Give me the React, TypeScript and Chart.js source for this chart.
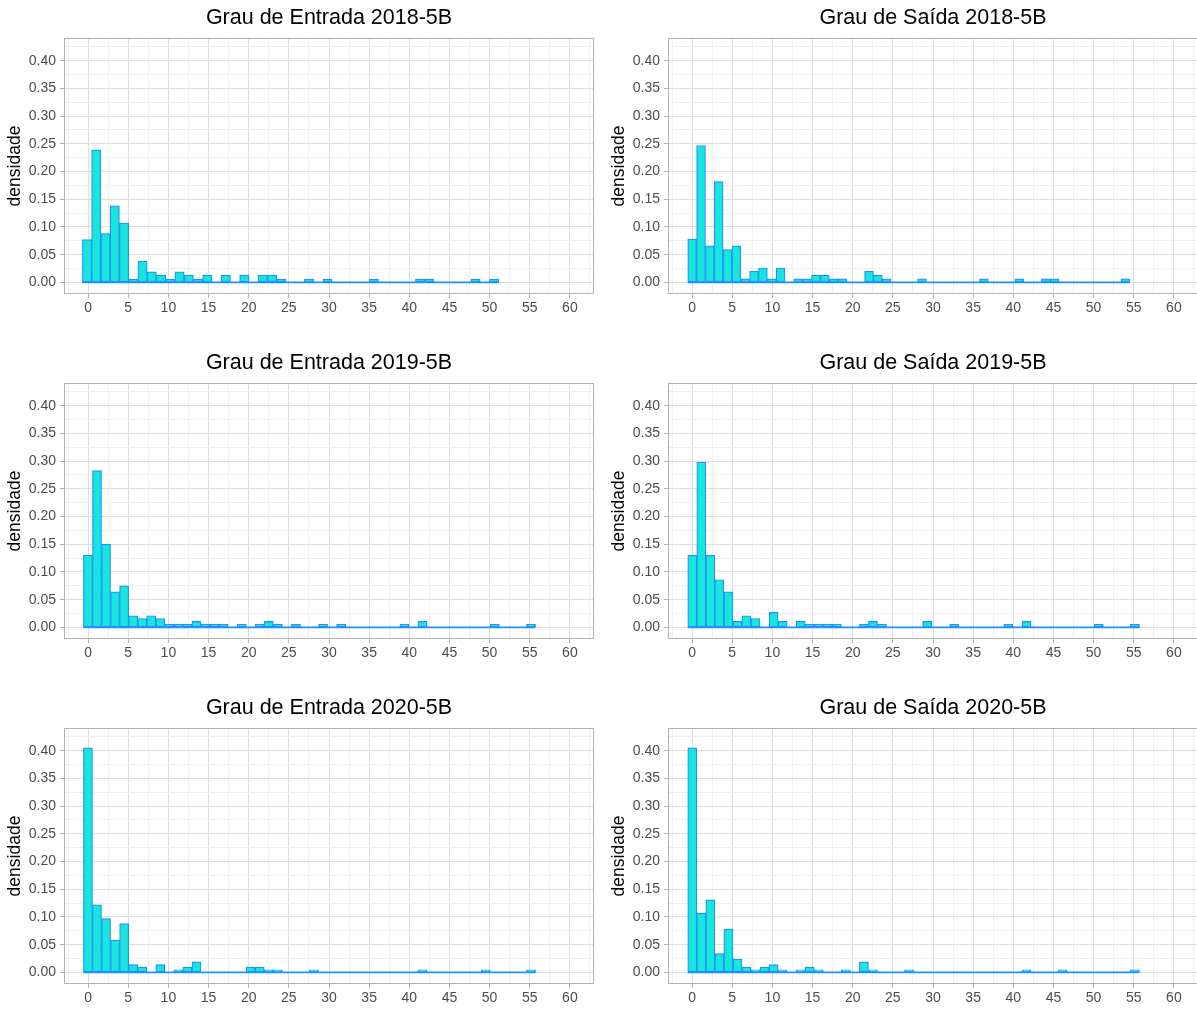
import React, { useEffect, useRef } from 'react';
import { Chart, registerables } from 'chart.js';

Chart.register(...registerables);

// ---------- data ----------
const panelTitles = [
  'Grau de Entrada 2018-5B',
  'Grau de Saída 2018-5B',
  'Grau de Entrada 2019-5B',
  'Grau de Saída 2019-5B',
  'Grau de Entrada 2020-5B',
  'Grau de Saída 2020-5B',
];

// histogram bins: left edge of the first bin and bin width (in degree units)
const binStarts = [-0.708, -0.54, -0.58, -0.54, -0.58, -0.54];
const binWidths = [1.152, 1.101, 1.126, 1.125, 1.126, 1.125];

// densities per bin
const entrada2018 = [
  0.077, 0.239, 0.088, 0.138, 0.107, 0.006, 0.038, 0.019, 0.013, 0.006,
  0.019, 0.013, 0.006, 0.013, 0, 0.013, 0, 0.013, 0, 0.013,
  0.013, 0.006, 0, 0, 0.006, 0, 0.006, 0, 0, 0,
  0, 0.006, 0, 0, 0, 0, 0.006, 0.006, 0, 0,
  0, 0, 0.006, 0, 0.006,
];
const saida2018 = [
  0.078, 0.247, 0.066, 0.182, 0.059, 0.066, 0.0065, 0.020, 0.026, 0.0065,
  0.026, 0, 0.0065, 0.0065, 0.013, 0.013, 0.0065, 0.0065, 0, 0,
  0.020, 0.013, 0.0065, 0, 0, 0, 0.0065, 0, 0, 0,
  0, 0, 0, 0.0065, 0, 0, 0, 0.0065, 0, 0,
  0.0065, 0.0065, 0, 0, 0, 0, 0, 0, 0, 0.0065,
];
const entrada2019 = [
  0.130, 0.283, 0.150, 0.064, 0.075, 0.021, 0.016, 0.021, 0.016, 0.0054,
  0.0054, 0.0054, 0.0107, 0.0054, 0.0054, 0.0054, 0, 0.0054, 0, 0.0054,
  0.0107, 0.0054, 0, 0.0054, 0, 0, 0.0054, 0, 0.0054, 0,
  0, 0, 0, 0, 0, 0.0054, 0, 0.0107, 0, 0,
  0, 0, 0, 0, 0, 0.0054, 0, 0, 0, 0.0054,
];
const saida2019 = [
  0.130, 0.298, 0.130, 0.086, 0.064, 0.0107, 0.021, 0.016, 0, 0.027,
  0.0107, 0, 0.0107, 0.0054, 0.0054, 0.0054, 0.0054, 0, 0, 0.0054,
  0.0107, 0.0054, 0, 0, 0, 0, 0.0107, 0, 0, 0.0054,
  0, 0, 0, 0, 0, 0.0054, 0, 0.0107, 0, 0,
  0, 0, 0, 0, 0, 0.0054, 0, 0, 0, 0.0054,
];
const entrada2020 = [
  0.405, 0.122, 0.097, 0.058, 0.088, 0.014, 0.0094, 0, 0.014, 0,
  0.0047, 0.0094, 0.019, 0, 0, 0, 0, 0, 0.0094, 0.0094,
  0.0047, 0.0047, 0, 0, 0, 0.0047, 0, 0, 0, 0,
  0, 0, 0, 0, 0, 0, 0, 0.0047, 0, 0,
  0, 0, 0, 0, 0.0047, 0, 0, 0, 0, 0.0047,
];
const saida2020 = [
  0.405, 0.107, 0.131, 0.034, 0.078, 0.024, 0.0094, 0.0047, 0.0094, 0.014,
  0.0047, 0, 0.0047, 0.0094, 0.0047, 0, 0, 0.0047, 0, 0.019,
  0.0047, 0, 0, 0, 0.0047, 0, 0, 0, 0, 0,
  0, 0, 0, 0, 0, 0, 0, 0.0047, 0, 0,
  0, 0.0047, 0, 0, 0, 0, 0, 0, 0, 0.0047,
];
const panelDensities = [entrada2018, saida2018, entrada2019, saida2019, entrada2020, saida2020];

// axis ticks (major ones get labels, the others are minor grid lines)
const xTickValues = [
  -2.5, 0, 2.5, 5, 7.5, 10, 12.5, 15, 17.5, 20, 22.5, 25, 27.5, 30, 32.5, 35,
  37.5, 40, 42.5, 45, 47.5, 50, 52.5, 55, 57.5, 60, 62.5,
];
const xMajorLabels = ['0', '5', '10', '15', '20', '25', '30', '35', '40', '45', '50', '55', '60'];
const yTickValues = [
  0, 0.025, 0.05, 0.075, 0.1, 0.125, 0.15, 0.175, 0.2, 0.225, 0.25, 0.275,
  0.3, 0.325, 0.35, 0.375, 0.4, 0.425,
];
const yMajorLabels = ['0.00', '0.05', '0.10', '0.15', '0.20', '0.25', '0.30', '0.35', '0.40'];

const xRange = [-3, 63];
const yRange = [-0.021, 0.441];
const yAxisTitle = 'densidade';

// ---------- styles ----------
const FONT = "'Liberation Sans', Arial, Helvetica, sans-serif";
const FILL = '#16e6dc';
const EDGE = '#1e90ff';
const GRID_MAJOR = '#dedede';
const GRID_MINOR = '#efefef';
const AXIS_GRAY = '#b3b3b3';
const TICK_TEXT = '#4d4d4d';

const ROW_H = 345;
const COL_X = [0, 598];
const COL_W = [598, 601];
const Y_AXIS_W = [64, 70];
const RIGHT_PAD = [4, 1];
const YTITLE_PAD = [4.5, 10.5];

const isMajorX = (v: number) => Math.abs(v / 5 - Math.round(v / 5)) < 1e-6;
const isMajorY = (v: number) => Math.abs(v / 0.05 - Math.round(v / 0.05)) < 1e-6;

const panelBorder = {
  id: 'panelBorder',
  beforeDatasetsDraw(chart: any) {
    const { ctx, chartArea: a } = chart;
    ctx.save();
    ctx.strokeStyle = AXIS_GRAY;
    ctx.lineWidth = 1;
    ctx.strokeRect(
      Math.round(a.left) + 0.5,
      Math.round(a.top) + 0.5,
      Math.round(a.right - a.left) - 1,
      Math.round(a.bottom - a.top) - 1
    );
    ctx.restore();
  },
};

function Panel({ index }: { index: number }) {
  const ref = useRef<HTMLCanvasElement>(null);
  const col = index % 2;
  const row = Math.floor(index / 2);

  useEffect(() => {
    const canvas = ref.current;
    if (!canvas) return;
    const density = panelDensities[index];
    const start = binStarts[index];
    const w = binWidths[index];
    const bars = density.map((d, i) => ({ x: start + w * (i + 0.5), y: d }));
    const baseline = [
      { x: start, y: 0 },
      { x: start + w * density.length, y: 0 },
    ];

    const chart = new Chart(canvas, {
      type: 'bar',
      data: {
        datasets: [
          {
            type: 'line',
            data: baseline,
            borderColor: EDGE,
            borderWidth: 1.6,
            pointRadius: 0,
            order: 0,
          } as any,
          {
            type: 'bar',
            data: bars,
            backgroundColor: FILL,
            borderColor: EDGE,
            borderWidth: 1.2,
            borderSkipped: false,
            barPercentage: 1,
            categoryPercentage: 1,
            order: 1,
          } as any,
        ],
      },
      options: {
        animation: false,
        responsive: false,
        devicePixelRatio: 1,
        events: [],
        layout: { padding: { left: 0, right: RIGHT_PAD[col], top: 0, bottom: 0 } },
        plugins: {
          legend: { display: false },
          tooltip: { enabled: false },
          title: {
            display: true,
            text: panelTitles[index],
            fullSize: false,
            color: '#000000',
            font: { family: FONT, size: 21.5, weight: 'normal' },
            padding: { top: 5, bottom: 7.2 },
          },
        },
        scales: {
          x: {
            type: 'linear',
            min: xRange[0],
            max: xRange[1],
            offset: false,
            bounds: 'data',
            afterBuildTicks: (scale: any) => {
              scale.ticks = xTickValues.map((v) => ({ value: v }));
            },
            afterFit: (scale: any) => {
              scale.height = 51;
            },
            ticks: {
              autoSkip: false,
              maxRotation: 0,
              minRotation: 0,
              padding: 2,
              color: TICK_TEXT,
              font: { family: FONT, size: 14 },
              callback: (v: any) => {
                const n = Number(v);
                return isMajorX(n) ? xMajorLabels[Math.round(n / 5)] : '';
              },
            },
            grid: {
              offset: false,
              drawTicks: true,
              tickLength: 4,
              lineWidth: 1,
              color: (c: any) => (isMajorX(c.tick.value) ? GRID_MAJOR : GRID_MINOR),
              tickColor: (c: any) => (isMajorX(c.tick.value) ? AXIS_GRAY : 'rgba(0,0,0,0)'),
            },
            border: { display: false },
          },
          y: {
            type: 'linear',
            min: yRange[0],
            max: yRange[1],
            bounds: 'data',
            afterBuildTicks: (scale: any) => {
              scale.ticks = yTickValues.map((v) => ({ value: v }));
            },
            afterFit: (scale: any) => {
              scale.width = Y_AXIS_W[col];
            },
            ticks: {
              autoSkip: false,
              padding: 4,
              color: TICK_TEXT,
              font: { family: FONT, size: 14 },
              callback: (v: any) => {
                const n = Number(v);
                return isMajorY(n) ? yMajorLabels[Math.round(n / 0.05)] : '';
              },
            },
            grid: {
              drawTicks: true,
              tickLength: 4,
              lineWidth: 1,
              color: (c: any) => (isMajorY(c.tick.value) ? GRID_MAJOR : GRID_MINOR),
              tickColor: (c: any) => (isMajorY(c.tick.value) ? AXIS_GRAY : 'rgba(0,0,0,0)'),
            },
            border: { display: false },
            title: {
              display: true,
              text: yAxisTitle,
              color: '#000000',
              font: { family: FONT, size: 17.5 },
              padding: { top: YTITLE_PAD[col], bottom: 0 },
            },
          },
        },
      } as any,
      plugins: [panelBorder],
    });
    return () => chart.destroy();
  }, [index, col]);

  return (
    <canvas
      ref={ref}
      width={COL_W[col]}
      height={ROW_H}
      style={{
        position: 'absolute',
        left: COL_X[col],
        top: row * ROW_H,
        width: COL_W[col],
        height: ROW_H,
      }}
    />
  );
}

export default function App() {
  useEffect(() => {
    document.body.style.margin = '0';
  }, []);
  return (
    <div
      style={{
        position: 'absolute',
        left: 0,
        top: 0,
        width: 1197,
        height: 1009,
        overflow: 'hidden',
        background: '#ffffff',
      }}
    >
      {panelTitles.map((_, i) => (
        <Panel key={i} index={i} />
      ))}
    </div>
  );
}
